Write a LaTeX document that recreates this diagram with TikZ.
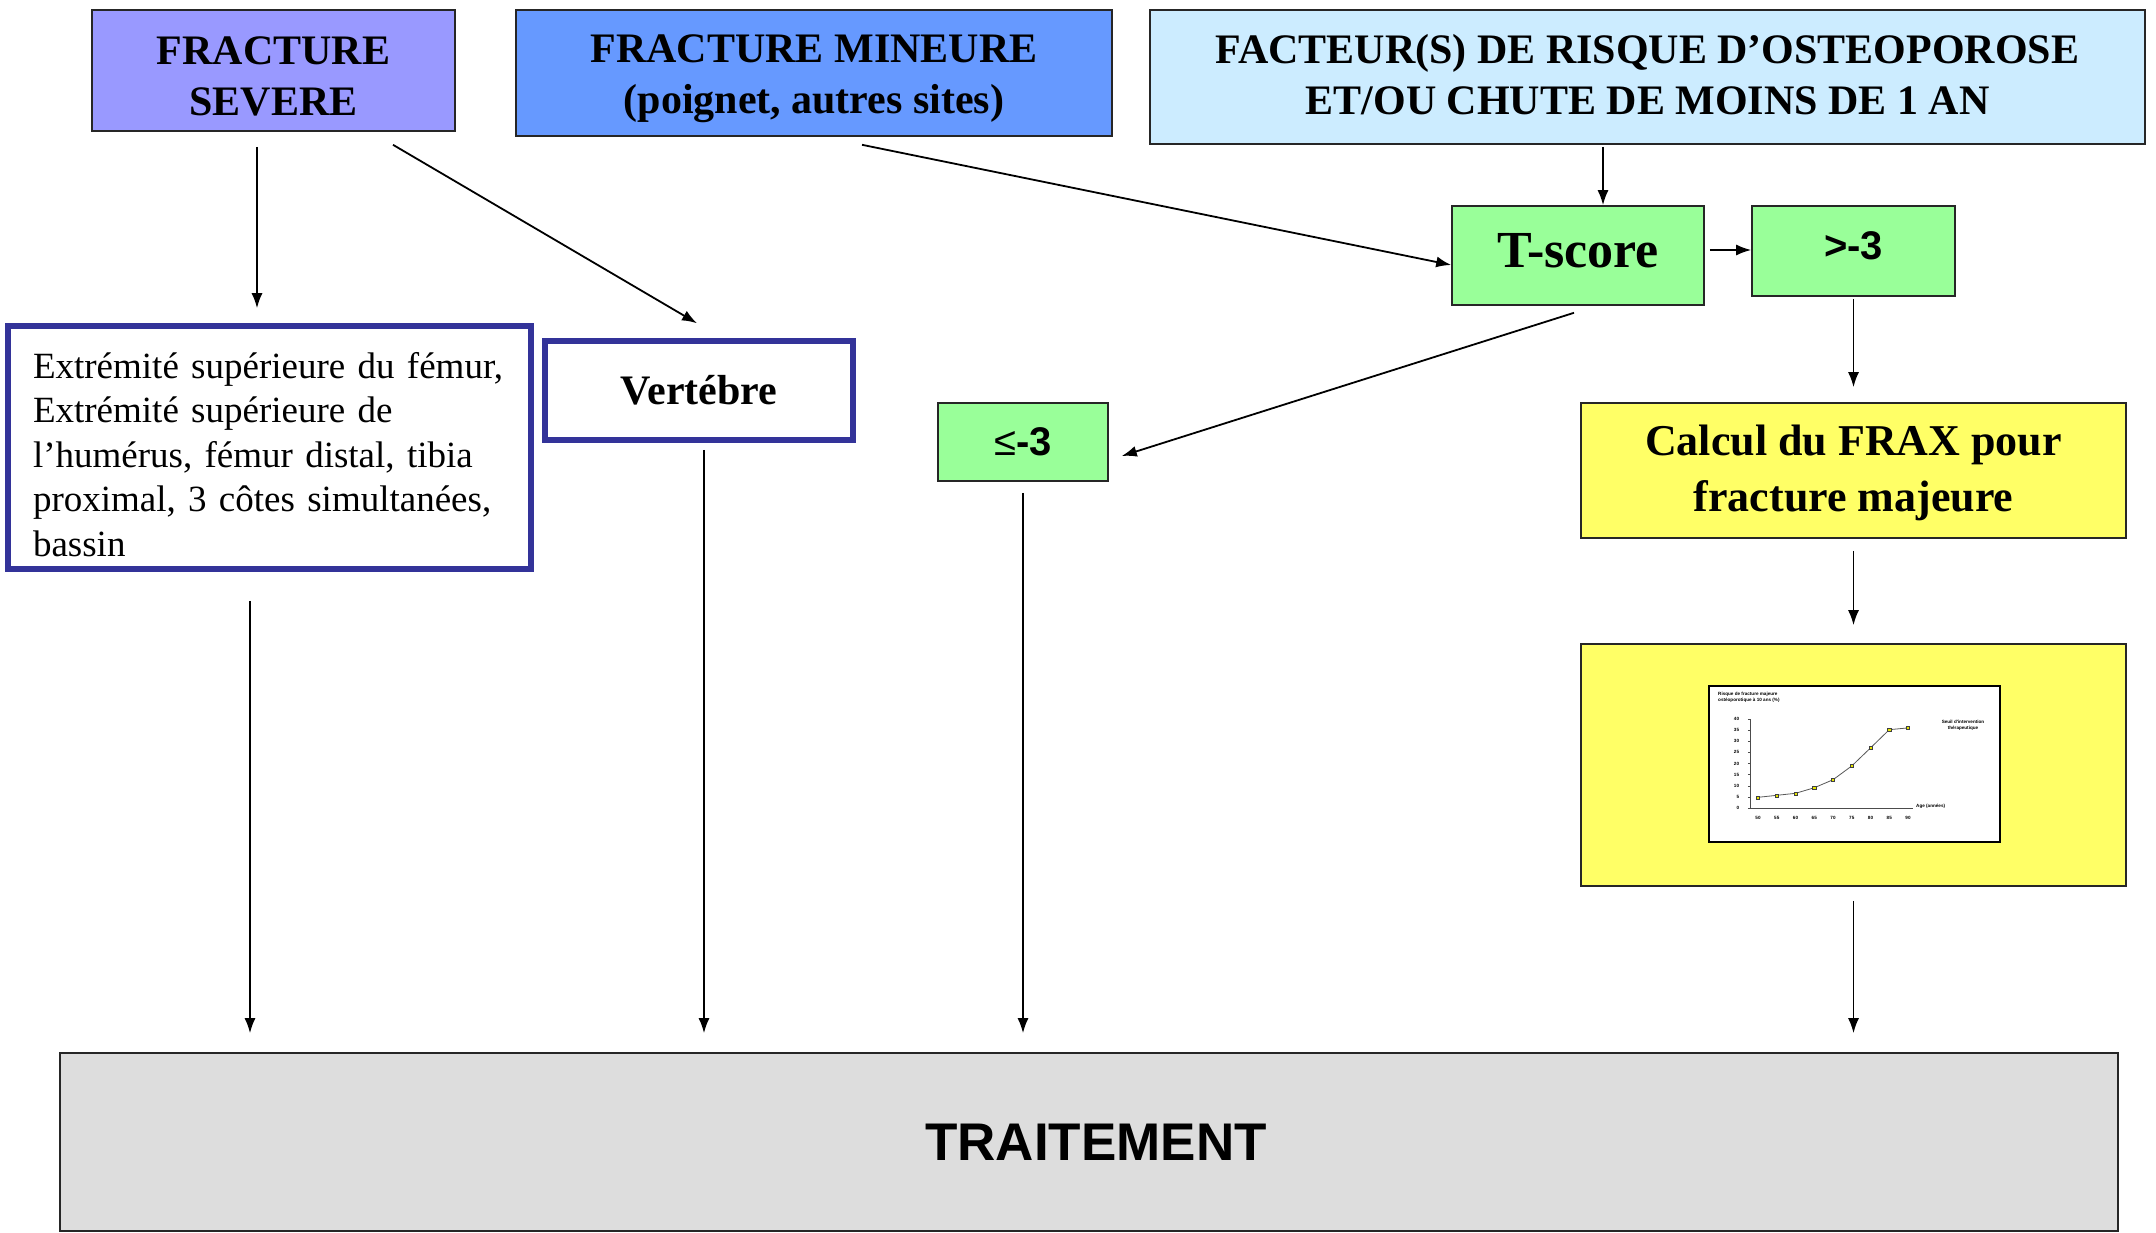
\documentclass[tikz,border=0pt]{standalone}
\usepackage{fontspec}
\setmainfont{Liberation Serif}
\newfontfamily\arial{Liberation Sans}
\usetikzlibrary{arrows.meta}
\definecolor{sevc}{HTML}{9999FF}
\definecolor{minc}{HTML}{6699FF}
\definecolor{facc}{HTML}{CCECFF}
\definecolor{grnc}{HTML}{99FF99}
\definecolor{yelc}{HTML}{FFFF66}
\definecolor{gryc}{HTML}{DDDDDD}
\definecolor{bluc}{HTML}{333399}
\definecolor{ptc}{HTML}{E6E600}
\begin{document}
\begin{tikzpicture}[x=1pt,y=-1pt,
  box/.style={draw=black!85, line width=1.6pt, inner sep=0pt, align=center},
  hdr/.style={box, font=\fontsize{42}{51}\selectfont\bfseries},
  bluebox/.style={draw=bluc, line width=5.5pt, fill=white, inner sep=0pt},
  grn/.style={box, fill=grnc, font=\arial\bfseries\fontsize{40}{46}\selectfont},
  arr/.style={line width=1.8pt, -{Latex[length=15pt,width=11pt]}},
  tiny/.style={font=\arial\bfseries\fontsize{4.6}{5.6}\selectfont, inner sep=0pt}]
\useasboundingbox (0,0) rectangle (2156,1233);

% header boxes
\node[hdr, fill=sevc, minimum width=363, minimum height=121] (sev) at (273.5,70.5) {\rule{0pt}{39pt}FRACTURE\\SEVERE};
\node[hdr, fill=minc, minimum width=596, minimum height=126] (min) at (814,73) {\rule{0pt}{40pt}FRACTURE MINEURE\\(poignet, autres sites)};
\node[hdr, fill=facc, minimum width=995, minimum height=134] (fac) at (1647.5,77) {FACTEUR(S) DE RISQUE D'OSTEOPOROSE\\ET/OU CHUTE DE MOINS DE 1 AN\rule[-6pt]{0pt}{1pt}};

% green boxes
\node[box, fill=grnc, minimum width=252, minimum height=99, font=\fontsize{52}{60}\selectfont\bfseries] (ts) at (1578,255.5) {T-score\rule[-10pt]{0pt}{1pt}};
\node[grn, minimum width=203, minimum height=90] (gt) at (1853.5,251) {>-3\rule[-11pt]{0pt}{1pt}};
\node[grn, minimum width=170, minimum height=78] (le) at (1023,442) {{\mdseries ≤}-3};

% blue bordered boxes
\node[bluebox, minimum width=523, minimum height=243, text width=473, align=left,
  font=\fontsize{37}{44.5}\selectfont] (ext) at (269.5,447.5)
  {\rule{0pt}{40pt}Extrémité supérieure du fémur,\\Extrémité supérieure de\\l'humérus, fémur distal, tibia\\proximal, 3 côtes simultanées,\\bassin};
\node[bluebox, minimum width=308, minimum height=99, font=\fontsize{42}{50}\selectfont\bfseries] (vert) at (699,390.5) {Vertébre};

% yellow boxes
\node[box, fill=yelc, minimum width=545, minimum height=135, font=\fontsize{44}{56}\selectfont\bfseries] (frax) at (1853.5,470.5) {\rule{0pt}{36pt}Calcul du FRAX pour\\fracture majeure};
\node[box, fill=yelc, minimum width=545, minimum height=242] (chartbox) at (1853.5,765) {};
\node[draw=black, line width=2pt, fill=white, minimum width=291, minimum height=156, inner sep=0pt] (plot) at (1854.5,764) {};

% chart contents
\node[tiny, anchor=north west, align=left] (ptitle) at (1718,692) {Risque de fracture majeure\\ostéoporotique à 10 ans (\%)};
\node[tiny, align=center] (pseuil) at (1963,725.5) {Seuil d'intervention\\thérapeutique};
\node[tiny, anchor=west] (page) at (1916,806) {Age (années)};
\begin{scope}[shift={(1758,808)}, x=3.75pt, y=2.225pt]
  \draw[line width=0.6pt, black!70] (-2.13,40) -- (-2.13,0) -- (41.3,0);
  \foreach \v in {0,5,...,40} {
    \draw[line width=0.5pt, black!70] (-2.7,\v) -- (-2.13,\v);
    \node[tiny, anchor=east] at (-5,\v) {\v};
  }
  \foreach \a [evaluate=\a as \lab using int(\a+50)] in {0,5,...,40} {
    \node[tiny] at (\a,-4.6) {\lab};
  }
  \draw[line width=0.8pt, black!65] (0,4.8) -- (5,5.7) -- (10,6.6) -- (15,9.1) -- (20,12.7) -- (25,18.9) -- (30,27) -- (35,35.2) -- (40,36);
  \foreach \p/\q in {0/4.8,5/5.7,10/6.6,15/9.1,20/12.7,25/18.9,30/27,35/35.2,40/36} {
    \filldraw[fill=ptc, draw=black!75, line width=0.4pt] (\p,\q) +(-1.6pt,-1.6pt) rectangle +(1.6pt,1.6pt);
  }
\end{scope}

% treatment box
\node[box, fill=gryc, minimum width=2058, minimum height=178, font=\arial\bfseries\fontsize{53}{60}\selectfont] (trt) at (1089,1142) {\hspace*{14pt}TRAITEMENT};

% connectors
\draw[arr, shorten <=15pt, shorten >=15pt] ([xshift=-16.5pt]sev.south) -- ([xshift=-12.5pt]ext.north);
\draw[arr] ([shift={(119.5pt,-13pt)}]sev.south) -- ([shift={(-2pt,15pt)}]vert.north);
\draw[arr] ([shift={(48pt,-8pt)}]min.south) -- ([yshift=-9.5pt]ts.west);
\draw[arr, shorten <=2pt] ([xshift=-44.5pt]fac.south) -- ([xshift=25pt]ts.north);
\draw[arr] ([shift={(5pt,5.5pt)}]ts.east) -- ([yshift=1pt]gt.west);
\draw[arr] ([shift={(-4pt,-7pt)}]ts.south) -- ([shift={(13pt,-14pt)}]le.east);
\draw[arr, shorten <=2pt, shorten >=15pt] (gt.south) -- (frax.north);
\draw[arr, shorten <=12pt, shorten >=18pt] (frax.south) -- (chartbox.north);
\draw[arr, shorten <=14pt, shorten >=19pt] (chartbox.south) -- (chartbox.south |- trt.north);
\draw[arr, shorten <=29pt, shorten >=19pt] ([xshift=-19.5pt]ext.south) -- ([xshift=-19.5pt]ext.south |- trt.north);
\draw[arr, shorten <=7pt, shorten >=19pt] ([xshift=5pt]vert.south) -- ([xshift=5pt]vert.south |- trt.north);
\draw[arr, shorten <=11pt, shorten >=19pt] (le.south) -- (le.south |- trt.north);
\end{tikzpicture}
\end{document}
